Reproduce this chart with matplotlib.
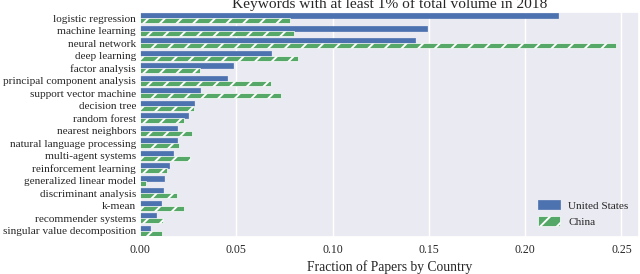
import matplotlib
matplotlib.use("Agg")
import matplotlib.pyplot as plt
import numpy as np
import seaborn as sns

keywords = ["logistic regression", "machine learning", "neural network", "deep learning",
            "factor analysis", "principal component analysis", "support vector machine",
            "decision tree", "random forest", "nearest neighbors", "natural language processing",
            "multi-agent systems", "reinforcement learning", "generalized linear model",
            "discriminant analysis", "k-mean", "recommender systems", "singular value decomposition"]
us = [0.217, 0.149, 0.143, 0.068, 0.048, 0.045, 0.031, 0.028, 0.025, 0.019, 0.019,
      0.017, 0.015, 0.0125, 0.012, 0.011, 0.008, 0.005]
china = [0.078, 0.080, 0.247, 0.082, 0.031, 0.068, 0.073, 0.028, 0.023, 0.027, 0.020,
         0.026, 0.014, 0.003, 0.019, 0.023, 0.012, 0.0115]
xticks = [0.00, 0.05, 0.10, 0.15, 0.20, 0.25]

sns.set_theme(style="darkgrid")
plt.rcParams['font.family'] = ['Liberation Serif', 'DejaVu Serif']
plt.rcParams['hatch.color'] = 'white'
plt.rcParams['hatch.linewidth'] = 1.4

fig = plt.figure(figsize=(6.4, 2.74), dpi=100)
ax = fig.add_axes([0.219, 0.135, 0.779, 0.821])

y = np.arange(len(keywords))
h = 0.4
ax.barh(y - h / 2, us, height=h, color="#4C72B0", edgecolor="#4C72B0", linewidth=0.5,
        label="United States")
ax.barh(y + h / 2, china, height=h, color="#55A868", edgecolor="white", linewidth=0.5,
        hatch="//", label="China")

ax.set_yticks(y)
ax.set_yticklabels(keywords, fontsize=8.1)
ax.set_ylim(len(keywords) - 0.5, -0.5)
ax.set_xlim(0, 0.259)
ax.set_xticks(xticks)
ax.set_xticklabels([f"{t:.2f}" for t in xticks], fontsize=8.5)
ax.tick_params(axis='y', length=0, pad=3)
ax.tick_params(axis='x', length=0, pad=5)
ax.grid(axis='y', visible=False)
ax.set_xlabel("Fraction of Papers by Country", fontsize=9.8, labelpad=3)
ax.set_title("Keywords with at least 1% of total volume in 2018", fontsize=11.1, pad=3)
ax.legend(loc="lower right", frameon=False, fontsize=8.1, handlelength=2.0,
          handleheight=0.9, handletextpad=0.7, borderaxespad=0.5, borderpad=0.4)

fig.savefig("out.png", dpi=100)
